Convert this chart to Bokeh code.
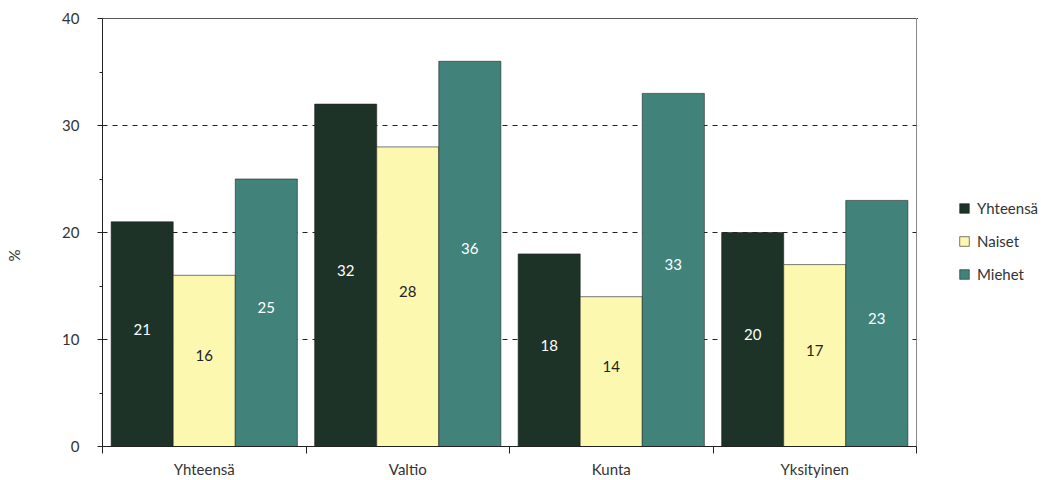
from bokeh.plotting import figure
from bokeh.layouts import row
from bokeh.models import (FixedTicker, LinearAxis, Range1d, Legend, LegendItem,
                          ColumnDataSource, Span)
from bokeh.core.properties import value
from bokeh.transform import dodge
from bokeh.embed import file_html
from bokeh.resources import INLINE

categories = ["Yhteensä", "Valtio", "Kunta", "Yksityinen"]
series_names = ["Yhteensä", "Naiset", "Miehet"]
yhteensa = [21, 32, 18, 20]
naiset = [16, 28, 14, 17]
miehet = [25, 36, 33, 23]
series_values = [yhteensa, naiset, miehet]
colors = ["#1e3327", "#fdf8b0", "#41837a"]
label_colors = ["#ffffff", "#222222", "#ffffff"]
y_ticks = [0, 10, 20, 30, 40]
grid_ticks = [10, 20, 30]

FONT = "Lato"
n = len(categories)
xs = [i + 0.5 for i in range(n)]
bounds = list(range(n + 1))

p = figure(width=917, height=480, x_range=Range1d(0, n), y_range=Range1d(0, 40),
           output_backend="svg", toolbar_location=None,
           min_border_left=102, min_border_right=1, min_border_top=18,
           min_border_bottom=0, x_axis_type=None)
p.background_fill_color = "white"
p.border_fill_color = "white"
p.outline_line_color = "#888888"
p.xgrid.visible = False

# y axis
ya = p.yaxis[0]
ya.ticker = FixedTicker(ticks=y_ticks, minor_ticks=[5, 15, 25, 35])
ya.major_tick_out = 5
ya.major_tick_in = 0
ya.minor_tick_out = 3
ya.minor_tick_in = 0
ya.axis_line_color = "#222222"
ya.major_tick_line_color = "#222222"
ya.minor_tick_line_color = "#222222"
ya.major_label_text_font = FONT
ya.major_label_text_font_size = "15px"
ya.major_label_text_color = "#333333"
ya.major_label_standoff = 18
ya.axis_label = "%" + "\u00a0" * 12
ya.axis_label_text_font = FONT
ya.axis_label_text_font_size = "15px"
ya.axis_label_text_font_style = "normal"
ya.axis_label_text_color = "#333333"
ya.axis_label_standoff = 36

p.ygrid.ticker = FixedTicker(ticks=grid_ticks)
p.ygrid.grid_line_color = "#222222"
p.ygrid.grid_line_dash = "5 5"
p.ygrid.grid_line_width = 1

# x axis: boundary ticks (no labels)
xa = LinearAxis(ticker=FixedTicker(ticks=bounds),
                major_label_overrides={b: "" for b in bounds})
xa.major_tick_out = 7
xa.major_tick_in = 0
xa.minor_tick_out = 0
xa.major_label_text_font_size = "1px"
xa.major_label_standoff = 0
xa.axis_line_color = "#222222"
xa.major_tick_line_color = "#222222"
p.add_layout(xa, "below")

# x axis: category labels
xl = LinearAxis(ticker=FixedTicker(ticks=xs),
                major_label_overrides={x: c for x, c in zip(xs, categories)})
xl.axis_line_color = None
xl.major_tick_out = 0
xl.major_tick_in = 0
xl.minor_tick_out = 0
xl.major_label_text_font = FONT
xl.major_label_text_font_size = "15px"
xl.major_label_text_color = "#333333"
xl.major_label_standoff = 6
p.add_layout(xl, "below")

p.add_layout(Span(location=40, dimension="width", line_color="#222222", line_width=1))

offsets = [-0.305, 0.0, 0.305]
sources = []
for name, vals, col, lc, off in zip(series_names, series_values, colors, label_colors, offsets):
    src = ColumnDataSource(dict(x=xs, top=vals, half=[v / 2 for v in vals],
                                label=[str(v) for v in vals]))
    sources.append(src)
    p.vbar(x=dodge("x", off, range=p.x_range), top="top", bottom=0, width=0.305,
           source=src, fill_color=col, line_color="#222222", line_width=0.6)
    p.text(x=dodge("x", off, range=p.x_range), y="half", text="label", source=src,
           text_align="center", text_baseline="middle", text_color=lc, y_offset=-5,
           text_font=value(FONT), text_font_size="15px")

# legend panel (its own figure; bars there lie outside its visible range)
lg = figure(width=124, height=480, x_range=Range1d(n, n + 1), y_range=Range1d(-2, -1),
            output_backend="svg", toolbar_location=None,
            min_border_left=0, min_border_right=0, min_border_top=0, min_border_bottom=0,
            x_axis_type=None, y_axis_type=None)
lg.outline_line_color = None
lg.grid.visible = False
lg.background_fill_color = "white"
lg.border_fill_color = "white"
items = []
for name, col, src in zip(series_names, colors, sources):
    r = lg.vbar(x="x", top="top", bottom=0, width=0.3, source=src,
                fill_color=col, line_color="#222222", line_width=0.6)
    items.append(LegendItem(label=name, renderers=[r]))

legend = Legend(items=items, location=(41, 163), orientation="vertical")
legend.glyph_width = 12
legend.glyph_height = 12
legend.label_height = 12
legend.spacing = 15
legend.padding = 0
legend.margin = 0
legend.label_standoff = 7
legend.border_line_color = None
legend.background_fill_alpha = 0
legend.label_text_font = FONT
legend.label_text_font_size = "15px"
legend.label_text_color = "#333333"
lg.add_layout(legend, "center")

layout = row(p, lg)
open("out.html", "w").write(file_html(layout, INLINE))
